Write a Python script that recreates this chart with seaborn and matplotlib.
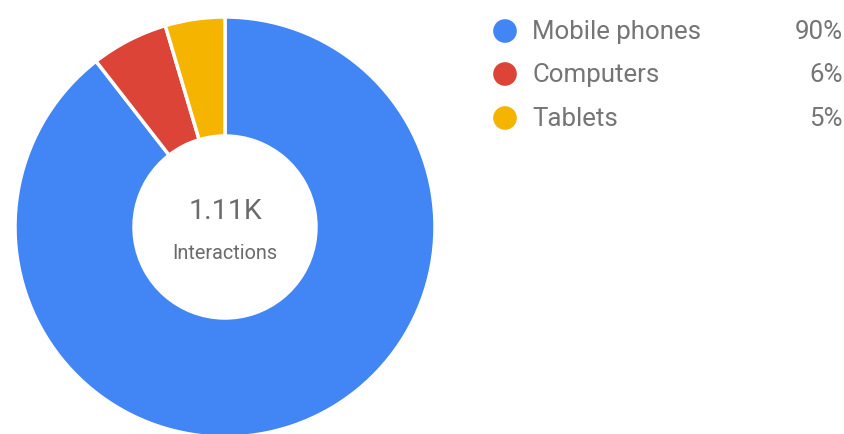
import matplotlib
matplotlib.use("Agg")
import matplotlib.pyplot as plt
import seaborn as sns

categories = ["Mobile phones", "Computers", "Tablets"]
values = [995, 66, 51]
pct_labels = ["90%", "6%", "5%"]
colors = ["#4285F4", "#DB4437", "#F4B400"]
center_value = "1.11K"
center_label = "Interactions"

sns.set_theme(style="white")
plt.rcParams["font.family"] = ["Roboto", "DejaVu Sans"]

W, H = 844, 434
fig = plt.figure(figsize=(W / 100, H / 100), dpi=100)

cx, cy, R, r = 225, 227, 210, 91
ax = fig.add_axes([(cx - R) / W, (H - cy - R) / H, 2 * R / W, 2 * R / H])
ax.pie(values, colors=colors, startangle=90, counterclock=False, radius=1,
       wedgeprops=dict(width=1 - r / R, edgecolor="white", linewidth=2.5))
ax.set_xlim(-1, 1)
ax.set_ylim(-1, 1)
ax.set_aspect("equal")
ax.axis("off")
ax.text(0, 0.075, center_value, ha="center", va="center", fontsize=20.5, color="#6b6b6b")
ax.text(0, -0.125, center_label, ha="center", va="center", fontsize=14.3, color="#6b6b6b")

# legend overlay in pixel coordinates
lg = fig.add_axes([0, 0, 1, 1], facecolor="none")
lg.set_xlim(0, W)
lg.set_ylim(H, 0)
lg.axis("off")
ys = [31, 74, 118]
lg.scatter([505] * 3, ys, s=290, c=colors, linewidths=0)
for y, cat, p in zip(ys, categories, pct_labels):
    lg.text(532, y + 1, cat, ha="left", va="center", fontsize=18.6, color="#757575")
    lg.text(843, y + 1, p, ha="right", va="center", fontsize=18.6, color="#757575")

fig.savefig("out.png", dpi=100)
